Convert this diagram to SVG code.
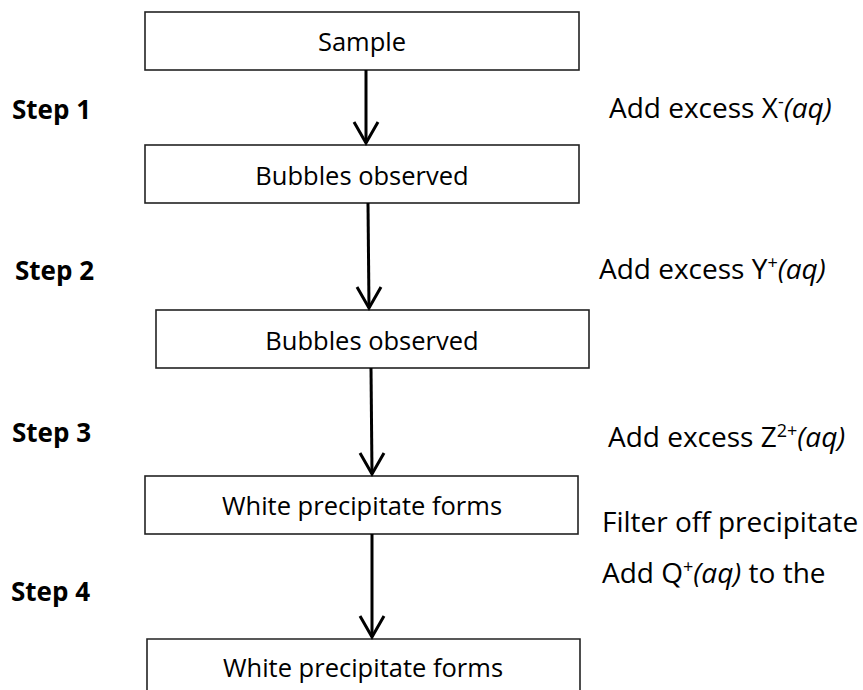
<svg xmlns="http://www.w3.org/2000/svg" width="863" height="690" viewBox="0 0 863 690">
<style>
.box{fill:#fff;stroke:#222;stroke-width:1.6}
.bt{font-family:"Open Sans","Noto Sans",sans-serif;font-size:25.5px;fill:#000;text-anchor:middle}
.rt{font-family:"Open Sans","Noto Sans",sans-serif;font-size:28px;fill:#000}
.st{font-family:"Open Sans","Noto Sans",sans-serif;font-size:26px;font-weight:bold;fill:#000}
.sup{font-size:18px}
.it{font-style:italic}
.conn line,.conn polyline{stroke:#000;stroke-width:3;fill:none}
</style>
<rect width="863" height="690" fill="#fff"/>
<g id="n1"><rect class="box" x="145" y="12" width="434" height="58"/><text class="bt" x="362" y="51">Sample</text></g>
<g id="n2"><rect class="box" x="145" y="145" width="434" height="58"/><text class="bt" x="362" y="185">Bubbles observed</text></g>
<g id="n3"><rect class="box" x="156" y="310" width="433" height="58"/><text class="bt" x="372" y="350">Bubbles observed</text></g>
<g id="n4"><rect class="box" x="145" y="476" width="433" height="58"/><text class="bt" x="362" y="515">White precipitate forms</text></g>
<g id="n5"><path class="box" d="M147 692 V639 H580 V692"/><text class="bt" x="363" y="677">White precipitate forms</text></g>
<g id="steps">
<text class="st" x="12" y="119">Step 1</text>
<text class="st" x="15" y="280">Step 2</text>
<text class="st" x="12" y="442">Step 3</text>
<text class="st" x="11" y="601">Step 4</text>
</g>
<g id="labels">
<text class="rt" x="609" y="118">Add excess X<tspan class="sup" dy="-10">-</tspan><tspan class="it" dy="10">(aq)</tspan></text>
<text class="rt" x="599" y="279">Add excess Y<tspan class="sup" dy="-10">+</tspan><tspan class="it" dy="10">(aq)</tspan></text>
<text class="rt" x="608" y="447">Add excess Z<tspan class="sup" dy="-10">2+</tspan><tspan class="it" dy="10">(aq)</tspan></text>
<text class="rt" x="602" y="532">Filter off precipitate</text>
<text class="rt" x="602" y="583">Add Q<tspan class="sup" dy="-10">+</tspan><tspan class="it" dy="10">(aq)</tspan> to the</text>
</g>
<g class="conn" id="connectors">
<line x1="366" y1="70" x2="366" y2="143"/><polyline points="354,122 366,143 378,122"/>
<line x1="368" y1="203" x2="369" y2="308"/><polyline points="357,287 369,308 381,287"/>
<line x1="371" y1="368" x2="372" y2="474"/><polyline points="360,453 372,474 384,453"/>
<line x1="372" y1="534" x2="372" y2="637"/><polyline points="360,616 372,637 384,616"/>
</g>
</svg>
